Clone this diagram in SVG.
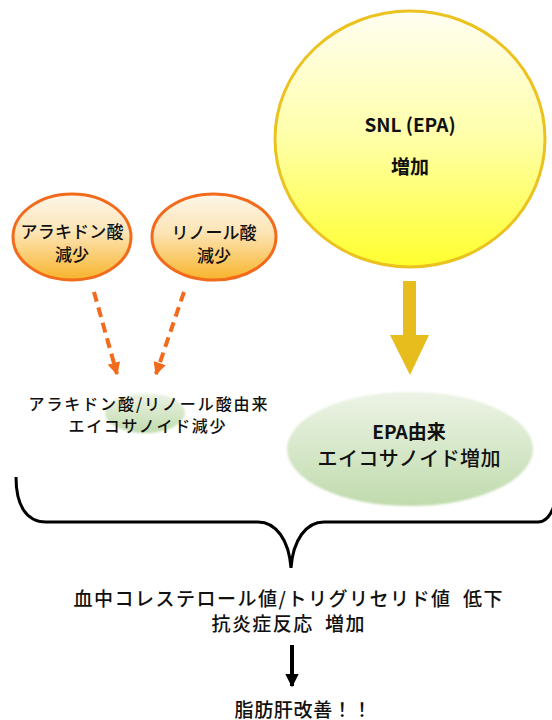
<svg xmlns="http://www.w3.org/2000/svg" width="552" height="720" viewBox="0 0 552 720">
<defs>
<linearGradient id="gOrange" x1="0" y1="0" x2="0" y2="1">
<stop offset="0" stop-color="#fdf6ea"/>
<stop offset="0.45" stop-color="#fce4b4"/>
<stop offset="1" stop-color="#f8b42a"/>
</linearGradient>
<linearGradient id="gYellow" x1="0" y1="0" x2="0" y2="1">
<stop offset="0" stop-color="#fffef2"/>
<stop offset="0.5" stop-color="#ffffa8"/>
<stop offset="1" stop-color="#ffff2e"/>
</linearGradient>
<linearGradient id="gGreen" x1="0" y1="0" x2="0" y2="1">
<stop offset="0" stop-color="#edf4e6"/>
<stop offset="1" stop-color="#c0dbad"/>
</linearGradient>
<filter id="soft" x="-10%" y="-10%" width="120%" height="120%">
<feGaussianBlur stdDeviation="1.2"/>
</filter>
<marker id="mOrange" viewBox="0 0 10 10" refX="9" refY="5" markerWidth="3.2" markerHeight="3.2" orient="auto" markerUnits="strokeWidth">
<path d="M0,0 L10,5 L0,10 z" fill="#f26b1d"/>
</marker>
<marker id="mBlack" viewBox="0 0 10 10" refX="9" refY="5" markerWidth="3.4" markerHeight="3.4" orient="auto" markerUnits="strokeWidth">
<path d="M0,0 L10,5 L0,10 z" fill="#000"/>
</marker>
</defs>
<style>
text { font-family: "Noto Sans CJK JP", "Noto Sans", sans-serif; fill: #111; text-anchor: middle; dominant-baseline: central; font-weight: 500; }
.t16 { font-size: 16px; }
.t17 { font-size: 17px; }
.t19 { font-size: 19px; }
.t20 { font-size: 20px; }
.b { font-weight: bold; }
.acid { fill: url(#gOrange); stroke: #f26b1d; stroke-width: 3; }
.dash { stroke: #f26b1d; stroke-width: 4; stroke-dasharray: 10 6; fill: none; }
</style>

<g id="connectors">
<line class="dash" x1="94" y1="292" x2="117" y2="374" marker-end="url(#mOrange)"/>
<line class="dash" x1="184" y1="292" x2="156" y2="374" marker-end="url(#mOrange)"/>
<path id="gold-arrow" d="M403,281 L416,281 L416,335 L429,335 L410,375 L390,335 L403,335 z" fill="#e6bd1d"/>
<path id="brace" d="M16,477 C16,505 26,522 46,522 L258,522 C276,522 289,540 291,568 C293,540 306,522 324,522 L538,522 C548,522 553,512 556,498" fill="none" stroke="#000" stroke-width="3"/>
<line x1="292" y1="645" x2="292" y2="686" stroke="#000" stroke-width="4" marker-end="url(#mBlack)"/>
</g>

<g id="node-snl">
<ellipse cx="410" cy="139" rx="135" ry="128" fill="url(#gYellow)" stroke="#ebc21f" stroke-width="3"/>
<text class="t19 b" x="410" y="123">SNL (EPA)</text>
<text class="t19 b" x="410" y="165">増加</text>
</g>

<g id="node-arachidonic">
<ellipse class="acid" cx="72" cy="237" rx="59" ry="43"/>
<text class="t17" x="72" y="230" textLength="103" lengthAdjust="spacing">アラキドン酸</text>
<text class="t17" x="72" y="253">減少</text>
</g>

<g id="node-linoleic">
<ellipse class="acid" cx="214" cy="237" rx="62" ry="43"/>
<text class="t17" x="214" y="231">リノール酸</text>
<text class="t17" x="214" y="254">減少</text>
</g>

<g id="node-decrease">
<ellipse cx="145" cy="413" rx="40" ry="20" fill="url(#gGreen)" filter="url(#soft)"/>
<text class="t16" x="148" y="403" textLength="239" lengthAdjust="spacing">アラキドン酸/リノール酸由来</text>
<text class="t16" x="147" y="425" textLength="157" lengthAdjust="spacing">エイコサノイド減少</text>
</g>

<g id="node-epa">
<ellipse cx="410" cy="449" rx="123" ry="57" fill="url(#gGreen)" filter="url(#soft)"/>
<text class="t19 b" x="409" y="430">EPA由来</text>
<text class="t20" x="409" y="457" textLength="183" lengthAdjust="spacing">エイコサノイド増加</text>
</g>

<g id="node-result">
<text class="t19" x="288" y="597" textLength="429" lengthAdjust="spacing">血中コレステロール値/トリグリセリド値&#160;&#160;低下</text>
<text class="t19" x="288" y="622" textLength="153" lengthAdjust="spacing">抗炎症反応&#160;&#160;増加</text>
</g>

<g id="node-final">
<text class="t19" x="303" y="708" textLength="137" lengthAdjust="spacing">脂肪肝改善！！</text>
</g>
</svg>
